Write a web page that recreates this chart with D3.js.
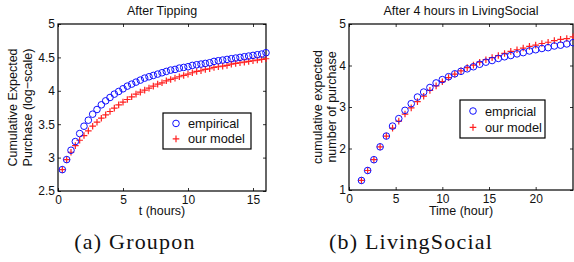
<!DOCTYPE html>
<html>
<head>
<meta charset="utf-8">
<script src="https://cdn.jsdelivr.net/npm/d3@7"></script>
<style>
  body { margin: 0; background: #fff; }
  text { font-family: "Liberation Sans", Arial, sans-serif; }
</style>
</head>
<body>
<svg id="chart" width="574" height="262"></svg>
<script>
// Groupon: t = k/3 hours, k = 1..48
var grouponEmpirical = [2.82, 2.97, 3.11, 3.24, 3.36, 3.47, 3.56, 3.65, 3.72, 3.79, 3.85, 3.90,
  3.95, 3.99, 4.03, 4.07, 4.10, 4.13, 4.16, 4.19, 4.21, 4.23, 4.25, 4.27,
  4.29, 4.31, 4.32, 4.34, 4.35, 4.36, 4.38, 4.39, 4.40, 4.41, 4.42, 4.44,
  4.45, 4.46, 4.47, 4.48, 4.49, 4.50, 4.51, 4.52, 4.53, 4.54, 4.55, 4.57];
var grouponModel = [2.82, 2.97, 3.08, 3.18, 3.26, 3.33, 3.40, 3.47, 3.53, 3.59, 3.64, 3.69,
  3.74, 3.79, 3.83, 3.87, 3.91, 3.95, 3.98, 4.01, 4.04, 4.07, 4.10, 4.12,
  4.15, 4.17, 4.19, 4.21, 4.23, 4.25, 4.27, 4.29, 4.30, 4.32, 4.33, 4.35,
  4.36, 4.37, 4.38, 4.40, 4.41, 4.42, 4.43, 4.44, 4.45, 4.46, 4.47, 4.48];
var grouponT = grouponEmpirical.map(function(d, i) { return (i + 1) / 3; });

// LivingSocial: t = 2k/3 hours, k = 2..36
var lsEmpirical = [1.23, 1.47, 1.73, 2.04, 2.30, 2.54, 2.72, 2.92, 3.08, 3.24, 3.36, 3.47,
  3.58, 3.66, 3.73, 3.80, 3.86, 3.92, 3.97, 4.03, 4.08, 4.12, 4.17, 4.21,
  4.24, 4.28, 4.31, 4.35, 4.38, 4.41, 4.43, 4.47, 4.49, 4.52, 4.55];
var lsModel = [1.23, 1.47, 1.73, 2.04, 2.30, 2.49, 2.66, 2.83, 2.98, 3.13, 3.26, 3.40,
  3.51, 3.61, 3.71, 3.79, 3.87, 3.95, 4.01, 4.08, 4.14, 4.19, 4.24, 4.29,
  4.34, 4.38, 4.42, 4.46, 4.49, 4.53, 4.56, 4.60, 4.63, 4.65, 4.69];
var lsT = lsEmpirical.map(function(d, i) { return 2 * (i + 2) / 3; });

var grouponXTicks = [0, 5, 10, 15];
var grouponYTicks = [2.5, 3, 3.5, 4, 4.5, 5];
var lsXTicks = [0, 5, 10, 15, 20];
var lsYTicks = [1, 2, 3, 4, 5];

var svg = d3.select("#chart");

function drawPanel(cfg) {
  var x = d3.scaleLinear().domain(cfg.xDomain).range([cfg.left, cfg.right]);
  var y = d3.scaleLinear().domain(cfg.yDomain).range([cfg.bottom, cfg.top]);
  var g = svg.append("g");

  // inside ticks on all four sides, MATLAB style
  var axes = [
    { ax: d3.axisBottom(x).tickValues(cfg.xTicks).tickSize(-3).tickPadding(4).tickFormat(d3.format("")), tr: "translate(0," + cfg.bottom + ")" },
    { ax: d3.axisTop(x).tickValues(cfg.xTicks).tickSize(-3).tickFormat(""), tr: "translate(0," + cfg.top + ")" },
    { ax: d3.axisLeft(y).tickValues(cfg.yTicks).tickSize(-3).tickPadding(3).tickFormat(d3.format("")), tr: "translate(" + cfg.left + ",0)" },
    { ax: d3.axisRight(y).tickValues(cfg.yTicks).tickSize(-3).tickFormat(""), tr: "translate(" + cfg.right + ",0)" }
  ];
  axes.forEach(function(a) {
    var ag = g.append("g").attr("transform", a.tr).call(a.ax);
    ag.select(".domain").remove();
    ag.selectAll(".tick line").attr("stroke", "#000").attr("stroke-width", 0.8);
    ag.selectAll(".tick text").attr("fill", "#111").style("font-size", "12px")
      .style("font-family", "'Liberation Sans', Arial, sans-serif");
  });

  g.append("rect")
    .attr("x", cfg.left).attr("y", cfg.top)
    .attr("width", cfg.right - cfg.left).attr("height", cfg.bottom - cfg.top)
    .attr("fill", "none").attr("stroke", "#000").attr("stroke-width", 1.2);

  // model crosses
  g.selectAll(".cross").data(cfg.model).enter().append("path")
    .attr("d", function(d, i) {
      var cx = x(cfg.t[i]), cy = y(d), s = 3.3;
      return "M" + (cx - s) + "," + cy + "H" + (cx + s) + "M" + cx + "," + (cy - s) + "V" + (cy + s);
    })
    .attr("stroke", "#ff2020").attr("stroke-width", 1.2).attr("fill", "none");

  // empirical circles
  g.selectAll(".circ").data(cfg.empirical).enter().append("circle")
    .attr("cx", function(d, i) { return x(cfg.t[i]); })
    .attr("cy", function(d) { return y(d); })
    .attr("r", 3.3)
    .attr("fill", "none").attr("stroke", "#1010ff").attr("stroke-width", 1);

  // title and axis labels
  var mid = (cfg.left + cfg.right) / 2;
  g.append("text").attr("x", mid).attr("y", 15).attr("text-anchor", "middle")
    .attr("fill", "#111").style("font-size", "12.5px").text(cfg.title);
  g.append("text").attr("x", mid).attr("y", 215).attr("text-anchor", "middle")
    .attr("fill", "#111").style("font-size", "12.5px").text(cfg.xLabel);
  var ym = (cfg.top + cfg.bottom) / 2;
  cfg.yLabel.forEach(function(line, i) {
    g.append("text")
      .attr("transform", "translate(" + cfg.yLabelX[i] + "," + ym + ") rotate(-90)")
      .attr("text-anchor", "middle").attr("fill", "#111")
      .style("font-size", "12.5px").text(line);
  });

  // legend
  var L = cfg.legend;
  g.append("rect").attr("x", L.x0).attr("y", L.y0)
    .attr("width", L.x1 - L.x0).attr("height", L.y1 - L.y0)
    .attr("fill", "#fff").attr("stroke", "#000").attr("stroke-width", 1.2);
  var r1 = L.y0 + (L.y1 - L.y0) * 0.29, r2 = L.y0 + (L.y1 - L.y0) * 0.72;
  g.append("circle").attr("cx", L.mx).attr("cy", r1).attr("r", 3.3)
    .attr("fill", "none").attr("stroke", "#1010ff");
  g.append("path")
    .attr("d", "M" + (L.mx - 3.3) + "," + r2 + "H" + (L.mx + 3.3) + "M" + L.mx + "," + (r2 - 3.3) + "V" + (r2 + 3.3))
    .attr("stroke", "#ff2020").attr("stroke-width", 1.2);
  [[r1, L.labels[0]], [r2, L.labels[1]]].forEach(function(e) {
    g.append("text").attr("x", L.tx).attr("y", e[0]).attr("dy", "0.35em")
      .attr("fill", "#111").style("font-size", "12.8px").text(e[1]);
  });
}

drawPanel({
  left: 58, right: 266, top: 24, bottom: 191,
  xDomain: [0, 16], yDomain: [2.5, 5],
  xTicks: grouponXTicks, yTicks: grouponYTicks,
  t: grouponT, empirical: grouponEmpirical, model: grouponModel,
  title: "After Tipping", xLabel: "t (hours)",
  yLabel: ["Cumulative Expected", "Purchase (log\u2212scale)"], yLabelX: [17, 32],
  legend: { x0: 163, x1: 251, y0: 113, y1: 149, mx: 176, tx: 188, labels: ["empirical", "our model"] }
});

drawPanel({
  left: 349, right: 573, top: 24, bottom: 190,
  xDomain: [0, 24], yDomain: [1, 5],
  xTicks: lsXTicks, yTicks: lsYTicks,
  t: lsT, empirical: lsEmpirical, model: lsModel,
  title: "After 4 hours in LivingSocial", xLabel: "Time (hour)",
  yLabel: ["cumulative expected", "number of purchase"], yLabelX: [322, 336],
  legend: { x0: 460, x1: 545, y0: 100, y1: 138, mx: 473, tx: 485, labels: ["empricial", "our model"] }
});

// sub-figure captions
svg.append("text").attr("x", 135).attr("y", 249).attr("text-anchor", "middle")
  .style("font-family", "'Liberation Serif', 'DejaVu Serif', serif").style("font-size", "22px")
  .style("letter-spacing", "1.2px").attr("fill", "#111")
  .text("(a) Groupon");
svg.append("text").attr("x", 411).attr("y", 249).attr("text-anchor", "middle")
  .style("font-family", "'Liberation Serif', 'DejaVu Serif', serif").style("font-size", "22px")
  .style("letter-spacing", "1.2px").attr("fill", "#111")
  .text("(b) LivingSocial");
</script>
</body>
</html>
